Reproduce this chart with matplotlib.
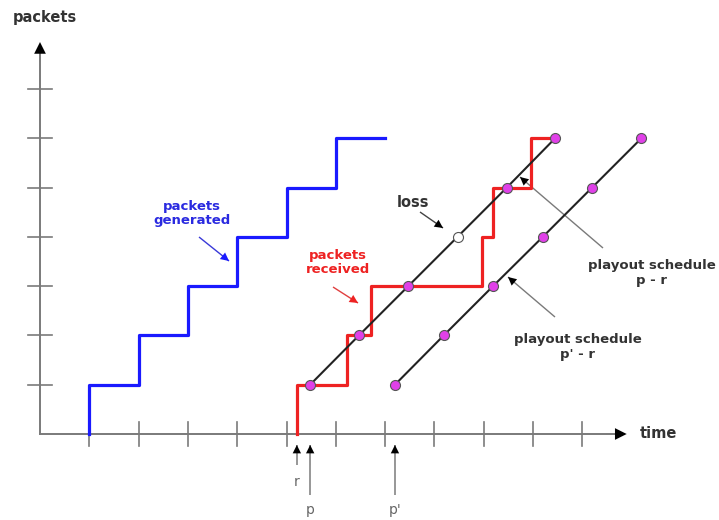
import matplotlib
matplotlib.use("Agg")
import matplotlib.pyplot as plt

# ---- data (units: one tick = one packet / one time slot) ----
x_ticks = [1, 2, 3, 4, 5, 6, 7, 8, 9, 10, 11]
y_ticks = [1, 2, 3, 4, 5, 6, 7]

gen_x = [1, 1, 2, 3, 4, 5, 6, 7]
gen_y = [0, 1, 2, 3, 4, 5, 6, 6]

recv_x = [5.21, 5.21, 6.23, 6.71, 8.97, 9.19, 9.96, 10.4]
recv_y = [0, 1, 2, 3, 4, 5, 6, 6]

sched_levels = [1, 2, 3, 4, 5, 6]
sched1_x = [5.48, 6.47, 7.47, 8.47, 9.47, 10.45]
sched2_x = [7.20, 8.19, 9.19, 10.20, 11.20, 12.20]
loss_index = 3

marker_labels = ["r", "p", "p'"]
marker_x = [5.21, 5.48, 7.20]

# ---- layout ----
U = 49.3
OX, OY = 40, 434
W, H = 719, 520

fig = plt.figure(figsize=(W / 100, H / 100), dpi=100)
ax = fig.add_axes([0, 0, 1, 1])
ax.set_xlim((0 - OX) / U, (W - OX) / U)
ax.set_ylim((OY - H) / U, (OY - 0) / U)
ax.axis("off")

GRAY = "#7a7a7a"
TXT = "#333333"


def arrow(x0, y0, x1, y1, lc, hc, lw=1.2, ms=12, head_frac=0.25):
    ax.plot([x0, x1], [y0, y1], color=lc, lw=lw, solid_capstyle="butt", zorder=2)
    hx = x1 - (x1 - x0) * head_frac
    hy = y1 - (y1 - y0) * head_frac
    ax.annotate("", xy=(x1, y1), xytext=(hx, hy),
                arrowprops=dict(arrowstyle="-|>", color=hc, lw=0.01,
                                mutation_scale=ms, shrinkA=0, shrinkB=0),
                zorder=3)


# axes
ax.plot([0, 0], [0, 7.7], color=GRAY, lw=1.4, zorder=1)
ax.plot([0, 11.7], [0, 0], color=GRAY, lw=1.4, zorder=1)
ax.annotate("", xy=(0, 7.95), xytext=(0, 7.55),
            arrowprops=dict(arrowstyle="-|>", color="black", lw=0.01,
                            mutation_scale=21, shrinkA=0, shrinkB=0))
ax.annotate("", xy=(11.9, 0), xytext=(11.5, 0),
            arrowprops=dict(arrowstyle="-|>", color="black", lw=0.01,
                            mutation_scale=21, shrinkA=0, shrinkB=0))
tl = 12 / U
for t in x_ticks:
    ax.plot([t, t], [-tl, tl], color=GRAY, lw=1.2, zorder=1)
for t in y_ticks:
    ax.plot([-tl, tl], [t, t], color=GRAY, lw=1.2, zorder=1)

ax.text((45 - OX) / U, (OY - 17) / U, "packets", ha="center", va="center",
        fontsize=10.5, fontweight="bold", color=TXT)
ax.text((640 - OX) / U, 0, "time", ha="left", va="center",
        fontsize=10.5, color=TXT, fontweight="bold")

# generated
ax.step(gen_x, gen_y, where="post", color="#1a1aff", lw=2.3, zorder=4)
# received
ax.step(recv_x, recv_y, where="post", color="#ee2222", lw=2.3, zorder=4)

# playout schedules
ax.plot(sched1_x, sched_levels, color="#222222", lw=1.5, zorder=5)
ax.plot(sched2_x, sched_levels, color="#222222", lw=1.5, zorder=5)
for i, (x, y) in enumerate(zip(sched1_x, sched_levels)):
    fc = "white" if i == loss_index else "#e040e8"
    ax.plot([x], [y], "o", ms=7.2, mfc=fc, mec="#555555", mew=0.8, zorder=6)
ax.plot(sched2_x, sched_levels, "o", ms=7.2, mfc="#e040e8", mec="#555555",
        mew=0.8, ls="none", zorder=6)


def P(px, py):
    return (px - OX) / U, (OY - py) / U


# labels
x, y = P(192, 213.5)
ax.text(x, y, "packets\ngenerated", ha="center", va="center", fontsize=9.5,
        fontweight="bold", color="#2a2ae0", linespacing=1.15)
arrow(*P(199, 237), *P(229, 261), lc="#3a3ad8", hc="#1a1aff", lw=1.0, ms=15, head_frac=0.4)

x, y = P(338, 262.5)
ax.text(x, y, "packets\nreceived", ha="center", va="center", fontsize=9.5,
        fontweight="bold", color="#ee2222", linespacing=1.15)
arrow(*P(333, 287), *P(358, 303), lc="#e04040", hc="#ee2222", lw=1.0, ms=15, head_frac=0.4)

x, y = P(413, 202)
ax.text(x, y, "loss", ha="center", va="center", fontsize=10.5,
        fontweight="bold", color=TXT)
arrow(*P(420, 212), *P(443, 228), lc="#444444", hc="black", lw=1.0, ms=15, head_frac=0.4)

x, y = P(652, 273)
ax.text(x, y, "playout schedule\np - r", ha="center", va="center", fontsize=9.5,
        fontweight="bold", color=TXT, linespacing=1.25)
arrow(*P(603, 248), *P(520, 177), lc=GRAY, hc="black", lw=1.0, ms=15, head_frac=0.15)

x, y = P(578, 347)
ax.text(x, y, "playout schedule\np' - r", ha="center", va="center", fontsize=9.5,
        fontweight="bold", color=TXT, linespacing=1.25)
arrow(*P(555, 317), *P(508, 277), lc=GRAY, hc="black", lw=1.0, ms=15, head_frac=0.25)

# r, p, p' markers under the time axis
tails = [465, 495, 495]
label_y = [482, 510, 510]
for lab, mx, ty, ly in zip(marker_labels, marker_x, tails, label_y):
    arrow(mx, (OY - ty) / U, mx, (OY - 445) / U, lc=GRAY, hc="black",
          lw=1.1, ms=15, head_frac=0.4)
    ax.text(mx, (OY - ly) / U, lab, ha="center", va="center", fontsize=10,
            color="#666666")

fig.savefig("out.png", dpi=100)
